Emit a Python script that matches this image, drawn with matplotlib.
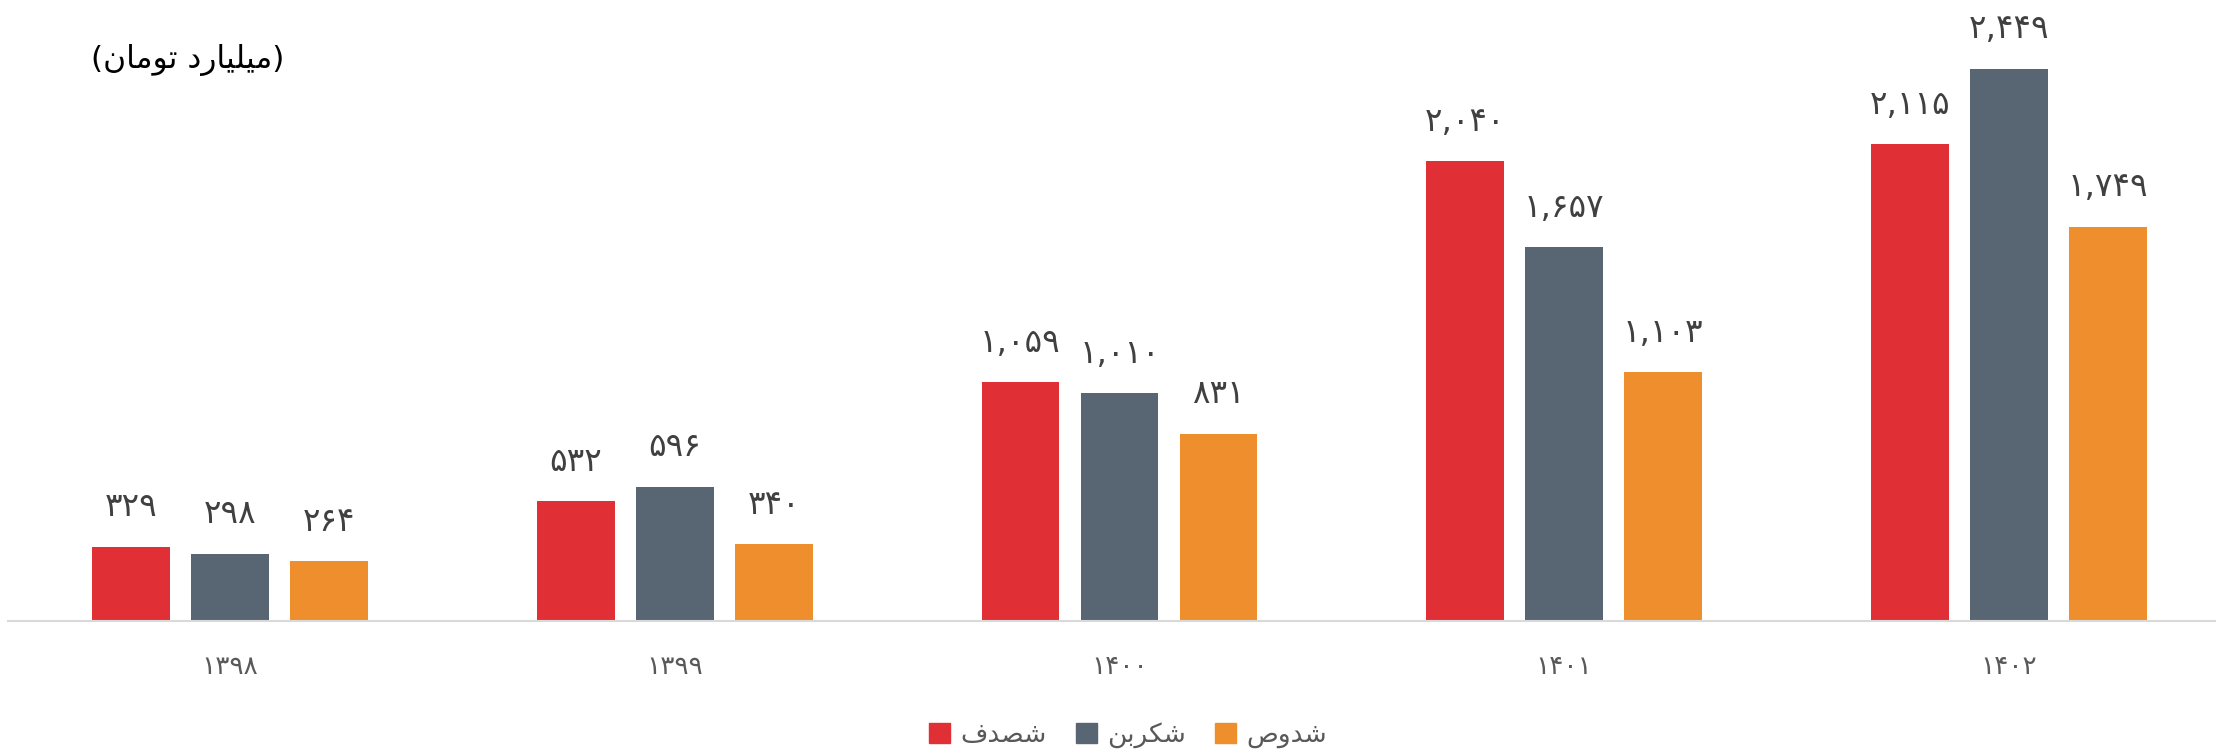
import matplotlib
matplotlib.use("Agg")
import matplotlib.pyplot as plt
import numpy as np
from matplotlib.patches import Patch

plt.rcParams['font.family'] = ['DejaVu Sans']

years = ['۱۳۹۸', '۱۳۹۹', '۱۴۰۰', '۱۴۰۱', '۱۴۰۲']
names = ['شصدف', 'شکربن', 'شدوص']
shasadaf = [329, 532, 1059, 2040, 2115]
shekarban = [298, 596, 1010, 1657, 2449]
shadous = [264, 340, 831, 1103, 1749]
colors = ['#E03035', '#586573', '#EF8E2C']
title = '(میلیارد تومان)'

# minimal arabic shaping: isolated, final, initial, medial
FORMS = {
    'ش': (0xFEB5, 0xFEB6, 0xFEB7, 0xFEB8), 'ص': (0xFEB9, 0xFEBA, 0xFEBB, 0xFEBC),
    'د': (0xFEA9, 0xFEAA, None, None), 'ف': (0xFED1, 0xFED2, 0xFED3, 0xFED4),
    'ک': (0xFB8E, 0xFB8F, 0xFB90, 0xFB91), 'ر': (0xFEAD, 0xFEAE, None, None),
    'ب': (0xFE8F, 0xFE90, 0xFE91, 0xFE92), 'ن': (0xFEE5, 0xFEE6, 0xFEE7, 0xFEE8),
    'و': (0xFEED, 0xFEEE, None, None), 'م': (0xFEE1, 0xFEE2, 0xFEE3, 0xFEE4),
    'ی': (0xFBFC, 0xFBFD, 0xFBFE, 0xFBFF), 'ل': (0xFEDD, 0xFEDE, 0xFEDF, 0xFEE0),
    'ا': (0xFE8D, 0xFE8E, None, None), 'ت': (0xFE95, 0xFE96, 0xFE97, 0xFE98),
}


def shape(s):
    out = []
    for i, c in enumerate(s):
        if c not in FORMS:
            out.append(c)
            continue
        prev = s[i - 1] if i > 0 else ''
        nxt = s[i + 1] if i + 1 < len(s) else ''
        jp = prev in FORMS and FORMS[prev][2] is not None
        jn = FORMS[c][2] is not None and nxt in FORMS
        f = FORMS[c]
        if jp and jn:
            out.append(chr(f[3]))
        elif jp:
            out.append(chr(f[1]))
        elif jn:
            out.append(chr(f[2]))
        else:
            out.append(chr(f[0]))
    vis = ''.join(out)[::-1]
    return vis.translate(str.maketrans('()', ')('))


def fa_num(v):
    return f"{v:,}".translate(str.maketrans('0123456789', '۰۱۲۳۴۵۶۷۸۹'))


fig = plt.figure(figsize=(22.16, 7.49), dpi=100)
ax = fig.add_axes([8/2216, 128/749, 2208/2216, 621/749])

x = np.arange(len(years))
w = 0.175
off = 0.2226
for k, (vals, c) in enumerate(zip([shasadaf, shekarban, shadous], colors)):
    bars = ax.bar(x + (k - 1) * off, vals, w, color=c, zorder=2)
    for b, v in zip(bars, vals):
        ax.annotate(fa_num(v), (b.get_x() + b.get_width() / 2, v),
                    xytext=(0, 22), textcoords='offset points',
                    ha='center', va='baseline', fontsize=23.5, color='#404040')

ax.set_xlim(-0.499, 4.4655)
ax.set_ylim(0, 2755)
for s in ['top', 'left', 'right']:
    ax.spines[s].set_visible(False)
ax.spines['bottom'].set_color('#d9d9d9')
ax.spines['bottom'].set_linewidth(1.5)
ax.set_yticks([])
ax.set_xticks(x)
ax.set_xticklabels(years, fontsize=19, color='#595959')
ax.tick_params(axis='x', length=0, pad=24)

fig.text(188/2216, 1 - 60/749, shape(title), ha='center', va='center',
         fontsize=22.5, color='black')

handles = [Patch(color=c, label=shape(n)) for n, c in zip(names, colors)]
fig.legend(handles=handles, loc='center', bbox_to_anchor=(1128/2216, 1 - 735/749),
           ncol=3, frameon=False, fontsize=19, handlelength=0.8, handleheight=0.8,
           handletextpad=0.4, columnspacing=1.1, labelcolor='#595959')

fig.savefig('out.png', dpi=100)
